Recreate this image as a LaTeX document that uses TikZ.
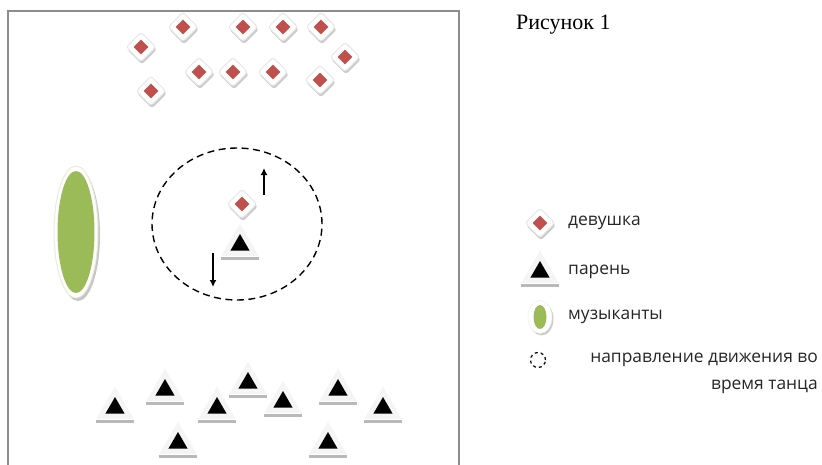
\documentclass[tikz,border=0pt]{standalone}
\usepackage{fontspec}
\setmainfont{Liberation Serif}
\setsansfont{Open Sans}
\usetikzlibrary{shapes.geometric,arrows.meta}
\definecolor{girlred}{HTML}{C0504D}
\definecolor{musicgreen}{HTML}{9BBB59}
\definecolor{framegray}{HTML}{8C8C8C}

\tikzset{
  girlshadow/.style={diamond,minimum size=30pt,inner sep=0pt,fill=gray!40,rounded corners=3pt},
  girlpad/.style={diamond,minimum size=30pt,inner sep=0pt,fill=white,draw=gray!20,line width=1pt,rounded corners=3pt},
  girlcore/.style={diamond,minimum size=15pt,inner sep=0pt,fill=girlred},
  boypad/.style={regular polygon,regular polygon sides=3,minimum size=43pt,inner sep=0pt,fill=gray!8},
  boycore/.style={regular polygon,regular polygon sides=3,minimum size=22pt,inner sep=0pt,fill=black},
  boybar/.style={draw=gray!55,line width=3pt},
  legendtext/.style={font=\sffamily\fontsize{17.4}{20}\selectfont,text=black!85,inner sep=0pt}
}

% one girl / one boy, #1 = name, #2 = position
\newcommand\girl[2]{%
  \node[girlshadow,xshift=1pt,yshift=-2.5pt] at (#2) {};
  \node[girlpad] (#1) at (#2) {};
  \node[girlcore] at (#1) {};}
\newcommand\boy[2]{%
  \node[boypad] (#1) at (#2) {};
  \node[boycore] at (#1) {};
  \draw[boybar] ([xshift=-19pt,yshift=-13pt]#1.center) -- ([xshift=19pt,yshift=-13pt]#1.center);}

\begin{document}
\begin{tikzpicture}[x=1pt,y=-1pt]
  \useasboundingbox (0,0) rectangle (822,464);
  % dance floor
  \draw[framegray,line width=2pt] (8,470) -- (8,11) -- (459,11) -- (459,470);

  % girls
  \foreach \n/\p in {1/{183,27},2/{243,27},3/{283,27},4/{321,27},5/{141,47},6/{345,57},
                     7/{199,72},8/{233,72},9/{273,72},10/{320,80},11/{151,91}}
    {\girl{g\n}{\p}}
  % boys
  \foreach \n/\p in {1/{115,408},2/{165,390},3/{217,408},4/{248,383},5/{283,402},
                     6/{338,390},7/{383,408},8/{178,443},9/{328,443}}
    {\boy{b\n}{\p}}

  % musicians
  \node[ellipse,minimum width=44pt,minimum height=132pt,fill=gray!45,xshift=2pt,yshift=-3pt] at (76,232) {};
  \node[ellipse,minimum width=44pt,minimum height=132pt,fill=white,draw=musicgreen!25,line width=1pt] (band) at (76,232) {};
  \node[ellipse,minimum width=37pt,minimum height=122pt,fill=musicgreen] at (band) {};

  % dancing pair
  \node[ellipse,draw,dashed,dash pattern=on 7pt off 4.5pt,line width=1.4pt,minimum width=170pt,minimum height=152pt] (ring) at (237,224) {};
  \girl{gd}{242,204}
  \boy{bd}{240,245}
  \coordinate (upS) at (264,195);
  \coordinate (upE) at (264,168);
  \coordinate (dnS) at (213,253);
  \coordinate (dnE) at (213,287);
  \draw[line width=1.5pt,-{Latex[length=7pt,width=7pt]}] (upS) -- (upE);
  \draw[line width=1.5pt,-{Latex[length=7pt,width=7pt]}] (dnS) -- (dnE);

  % caption
  \node[anchor=west,inner sep=0pt,font=\fontsize{22}{24}\selectfont] (cap) at (516,25) {Рисунок 1};

  % legend
  \girl{lg}{540,223}
  \node[legendtext,anchor=west] (lgt) at (568,223) {девушка};
  \boy{lb}{540,272}
  \node[legendtext,anchor=west] (lbt) at (568,272) {парень};
  \node[ellipse,minimum width=24pt,minimum height=33pt,fill=gray!40,xshift=1.5pt,yshift=-2pt] at (540,317) {};
  \node[ellipse,minimum width=24pt,minimum height=33pt,fill=white,draw=musicgreen!25] (lm) at (540,317) {};
  \node[ellipse,minimum width=13pt,minimum height=24pt,fill=musicgreen] at (lm) {};
  \node[legendtext,anchor=west] (lmt) at (568,317) {музыканты};
  \node[circle,draw,dashed,dash pattern=on 3pt off 3pt,line width=1.2pt,minimum size=15pt] (lr) at (538,360) {};
  \node[legendtext,anchor=east] (lrt) at (818,360) {направление движения во};
  \node[legendtext,anchor=east] (lrt2) at (818,387) {время танца};
\end{tikzpicture}
\end{document}
